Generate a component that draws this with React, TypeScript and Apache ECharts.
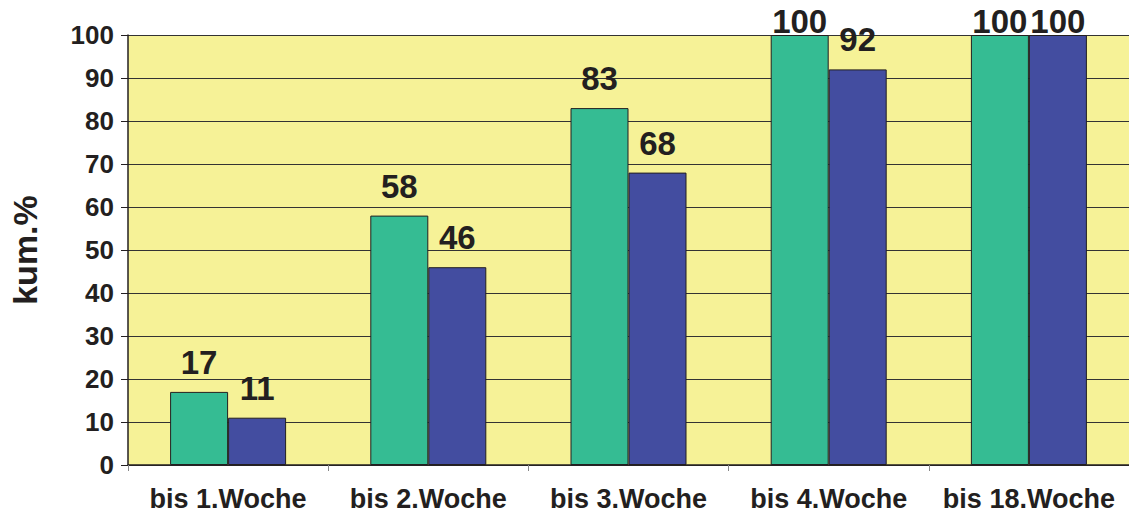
import React, { useEffect, useRef } from "react";
import * as echarts from "echarts";

const categories = ["bis 1.Woche", "bis 2.Woche", "bis 3.Woche", "bis 4.Woche", "bis 18.Woche"];
const seriesA = [17, 58, 83, 100, 100];
const seriesB = [11, 46, 68, 92, 100];
const yTicks = { min: 0, max: 100, interval: 10 };

const TEXT = "#231F20";
const FONT = "'Liberation Sans', Arial, sans-serif";

function mkData(vals: number[]) {
  return vals.map((v) => ({
    value: v,
    label: v >= yTicks.max ? { distance: -3 } : undefined,
  }));
}

export default function App() {
  const ref = useRef<HTMLDivElement>(null);
  useEffect(() => {
    if (!ref.current) return;
    const chart = echarts.init(ref.current, undefined, { renderer: "svg" });
    const labelCfg = {
      show: true,
      position: "top",
      distance: 13,
      fontSize: 33,
      fontWeight: "bold",
      fontFamily: FONT,
      color: TEXT,
    };
    chart.setOption({
      animation: false,
      backgroundColor: "#ffffff",
      grid: { left: 124, top: 35, width: 1010, height: 433, backgroundColor: "#F6F297", show: true, borderWidth: 0 },
      xAxis: {
        type: "category",
        data: categories,
        boundaryGap: true,
        axisLine: { show: true, lineStyle: { color: TEXT, width: 1.5 } },
        axisTick: { show: true, length: 6, lineStyle: { color: "#888888", width: 1 } },
        axisLabel: { interval: 0, fontSize: 27, fontWeight: "bold", fontFamily: FONT, color: TEXT, margin: 20 },
      },
      yAxis: {
        type: "value",
        min: yTicks.min,
        max: yTicks.max,
        interval: yTicks.interval,
        name: "kum.%",
        nameLocation: "middle",
        nameGap: 86,
        nameTextStyle: { fontSize: 34, fontWeight: "bold", fontFamily: FONT, color: TEXT },
        axisLine: { show: true, lineStyle: { color: TEXT, width: 1.5 } },
        axisTick: { show: true, length: 7, lineStyle: { color: TEXT, width: 1 } },
        axisLabel: { fontSize: 26, fontWeight: "bold", fontFamily: FONT, color: TEXT, margin: 14 },
        splitLine: { show: true, lineStyle: { color: "#333333", width: 1 } },
      },
      series: [
        {
          type: "bar",
          data: mkData(seriesA),
          barWidth: 58,
          barGap: "0%",
          itemStyle: { color: "#35BC93", borderColor: TEXT, borderWidth: 1 },
          label: labelCfg,
        },
        {
          type: "bar",
          data: mkData(seriesB),
          barWidth: 58,
          barGap: "0%",
          itemStyle: { color: "#434DA0", borderColor: TEXT, borderWidth: 1 },
          label: labelCfg,
        },
      ],
    });
    return () => chart.dispose();
  }, []);
  return (
    <div
      ref={ref}
      style={{ position: "fixed", left: 0, top: 0, width: 1129, height: 512 }}
    />
  );
}
